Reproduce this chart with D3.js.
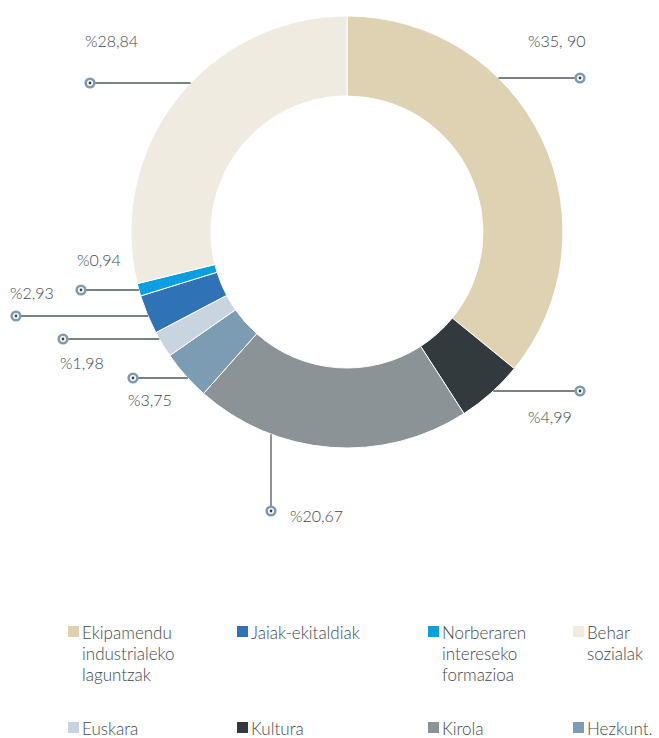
<!DOCTYPE html>
<html>
<head>
<meta charset="utf-8">
<script src="https://cdn.jsdelivr.net/npm/d3@7"></script>
<style>
  html, body { margin: 0; padding: 0; background: #fff; }
  svg text { font-family: Lato, "Noto Sans", sans-serif; font-weight: 300; fill: #42484c; }
</style>
</head>
<body>
<script>
'use strict';

// slice data, clockwise from 12 o'clock
const categories = ["Ekipamendu industrialeko laguntzak", "Kultura", "Kirola", "Hezkunt.",
  "Euskara", "Jaiak-ekitaldiak", "Norberaren intereseko formazioa", "Behar sozialak"];
const values = [35.90, 4.99, 20.67, 3.75, 1.98, 2.93, 0.94, 28.84];
const valueLabels = ["%35, 90", "%4,99", "%20,67", "%3,75", "%1,98", "%2,93", "%0,94", "%28,84"];
const colors = ["#dfd2b3", "#323a3e", "#8b9396", "#7b9cb2", "#c8d5e1", "#2f72b5", "#0a9fe0", "#f0ebe0"];

// legend order (4 columns, 2 rows)
const legendItems = [
  { name: ["Ekipamendu", "industrialeko", "laguntzak"], color: colors[0] },
  { name: ["Jaiak-ekitaldiak"], color: colors[5] },
  { name: ["Norberaren", "intereseko", "formazioa"], color: colors[6] },
  { name: ["Behar", "sozialak"], color: colors[7] },
  { name: ["Euskara"], color: colors[4] },
  { name: ["Kultura"], color: colors[1] },
  { name: ["Kirola"], color: colors[2] },
  { name: ["Hezkunt."], color: colors[3] }
];

(function () {
  const width = 659, height = 738;
  const cx = 347, cy = 232, outerR = 216, innerR = 136;

  const svg = d3.select('body').append('svg')
    .attr('width', width)
    .attr('height', height);

  const pie = d3.pie().sort(null).value(d => d);
  const arc = d3.arc().innerRadius(innerR).outerRadius(outerR);

  const g = svg.append('g').attr('transform', `translate(${cx},${cy})`);
  g.selectAll('path')
    .data(pie(values))
    .enter()
    .append('path')
    .attr('d', arc)
    .attr('fill', (d, i) => colors[i])
    .attr('stroke', '#fff')
    .attr('stroke-width', 1);

  // leader layout: marker position, label position, direction of line
  const callouts = [
    { mx: 580, my: 78, tx: 528, ty: 47, dir: 'h' },
    { mx: 580, my: 391, tx: 528, ty: 423, dir: 'h' },
    { mx: 271, my: 511, tx: 290, ty: 522, dir: 'v' },
    { mx: 133, my: 378, tx: 128, ty: 406, dir: 'h' },
    { mx: 63, my: 339, tx: 60, ty: 369, dir: 'h' },
    { mx: 16, my: 316, tx: 10, ty: 299, dir: 'h' },
    { mx: 81, my: 290, tx: 77, ty: 266, dir: 'h' },
    { mx: 90, my: 83, tx: 85, ty: 47, dir: 'h' }
  ];

  callouts.forEach((c, i) => {
    let x2, y2;
    if (c.dir === 'h') {
      const dy = c.my - cy;
      const dx = Math.sqrt(outerR * outerR - dy * dy);
      x2 = c.mx > cx ? cx + dx : cx - dx;
      y2 = c.my;
    } else {
      const dx = c.mx - cx;
      x2 = c.mx;
      y2 = cy + Math.sqrt(outerR * outerR - dx * dx);
    }
    svg.append('line')
      .attr('x1', c.mx).attr('y1', c.my)
      .attr('x2', x2).attr('y2', y2)
      .attr('stroke', '#4f585d')
      .attr('stroke-width', 1.3);
    svg.append('circle')
      .attr('cx', c.mx).attr('cy', c.my).attr('r', 4.3)
      .attr('fill', '#fff')
      .attr('stroke', '#7d9bb3')
      .attr('stroke-width', 2.6);
    svg.append('circle')
      .attr('cx', c.mx).attr('cy', c.my).attr('r', 1.4)
      .attr('fill', '#3a4246');
    svg.append('text')
      .attr('x', c.tx).attr('y', c.ty)
      .style('font-size', '16px')
      .text(valueLabels[i]);
  });

  // legend
  const colX = [68, 237, 428, 573];
  const rowY = [626, 722];
  legendItems.forEach((item, i) => {
    const x = colX[i % 4], y = rowY[Math.floor(i / 4)];
    svg.append('rect')
      .attr('x', x).attr('y', y)
      .attr('width', 11).attr('height', 11)
      .attr('fill', item.color);
    const t = svg.append('text')
      .attr('x', x + 14).attr('y', y + 13)
      .style('font-size', '17px');
    item.name.forEach((line, j) => {
      t.append('tspan')
        .attr('x', x + 14)
        .attr('dy', j === 0 ? 0 : 21)
        .text(line);
    });
  });
})();
</script>
</body>
</html>
